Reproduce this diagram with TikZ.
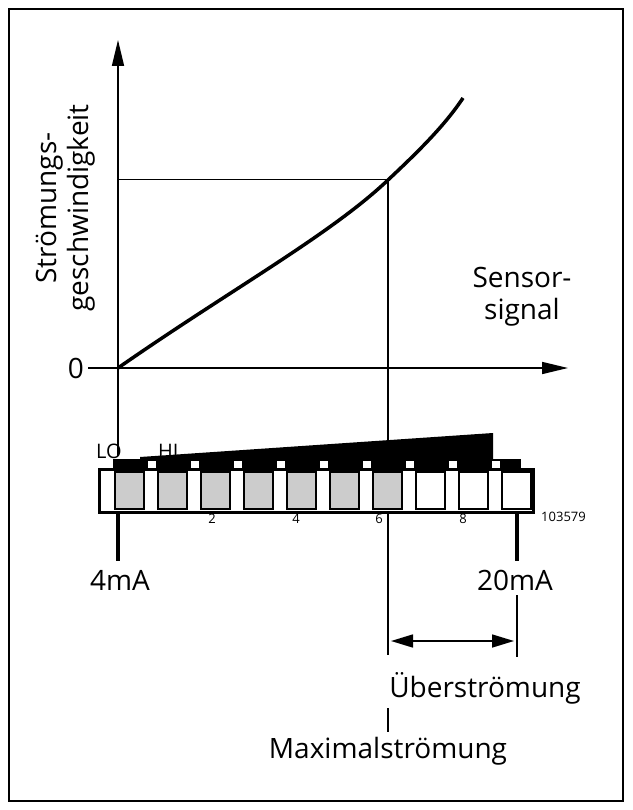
\documentclass[tikz,border=0pt]{standalone}
\usepackage{fontspec}
\setmainfont{Open Sans}
\usetikzlibrary{arrows.meta}
\begin{document}
\begin{tikzpicture}[x=1pt,y=-1pt,
  big/.style={font=\fontsize{28}{32}\selectfont,inner sep=0pt},
  tiny/.style={font=\fontsize{13}{14}\selectfont,inner sep=0pt},
  lohistyle/.style={font=\fontsize{20}{22}\selectfont,inner sep=0pt},
  arr/.style={-{Triangle[length=26pt,width=12pt]}}]
\useasboundingbox (0,0) rectangle (632,810);
\draw[line width=2pt] (9,9) rectangle (623,801);
% axes
\coordinate (o) at (118,368);
\coordinate (ytop) at (118,40);
\coordinate (xend) at (568,368);
\draw[line width=1.6pt,arr] (o) -- (ytop);
\draw[line width=1.6pt,arr] (88,368) -- (xend);
\node[big,anchor=east] (zero) at (84,368) {0};
\node[big,rotate=90,align=center] (ylab) at (66,208) {Strömungs-\\geschwindigkeit};
\node[big,align=center] (xlab) at (522,297) {Sensor-\\signal};
% curve
\coordinate (p) at (388,180);
\draw[line width=3.5pt] (o) .. controls (230,290) and (330,235) .. (p) .. controls (420,150) and (445,125) .. (463,98);
\draw[line width=1pt] (118,180) -- (p);
\draw[line width=1.6pt] (p) -- (388,655);
\draw[line width=1.6pt] (o) -- (118,456);
% wedge
\fill (140,457) -- (493,433) -- (493,459) -- (140,459) -- cycle;
\fill (113,459) rectangle (521,471);
\node[lohistyle,anchor=south west] (lo) at (96,459) {LO};
\node[lohistyle,anchor=south west] (hi) at (158,459) {HI};
% bar
\fill[white] (99,469) rectangle (533,512);
\foreach \k in {0,...,9}{
  \pgfmathsetmacro\xa{103+43*\k}
  \ifnum\k<7 \fill[gray!40] (\xa+12,472) rectangle (\xa+41,509); \fi
  \draw[line width=2.4pt] (\xa+12,472) rectangle (\xa+41,509);
}
\foreach \k in {1,...,9}{
  \pgfmathsetmacro\xa{103+43*\k}
  \fill[white] (\xa+2,461) rectangle (\xa+10,469);
}
\draw[line width=3pt] (99,469) rectangle (533,512);
\node[tiny] (n2) at (212,519) {2};
\node[tiny] (n4) at (296,519) {4};
\node[tiny] (n6) at (379,519) {6};
\node[tiny] (n8) at (463,519) {8};
\node[tiny,anchor=west] (num) at (541,517) {103579};
\draw[line width=3.5pt] (118,512) -- (118,561);
\draw[line width=3.5pt] (517,512) -- (517,561);
\node[big] (ma4) at (120,580) {4mA};
\node[big] (ma20) at (515,580) {20mA};
\draw[line width=1.6pt] (517,595) -- (517,657);
\draw[line width=1.6pt,{Triangle[length=22pt,width=13pt]}-{Triangle[length=22pt,width=13pt]}] (391,641) -- (514,641);
\node[big] (ueber) at (485,688) {Überströmung};
\draw[line width=1.6pt] (388,708) -- (388,732);
\node[big] (max) at (388,751) {Maximalströmung};
\end{tikzpicture}
\end{document}
